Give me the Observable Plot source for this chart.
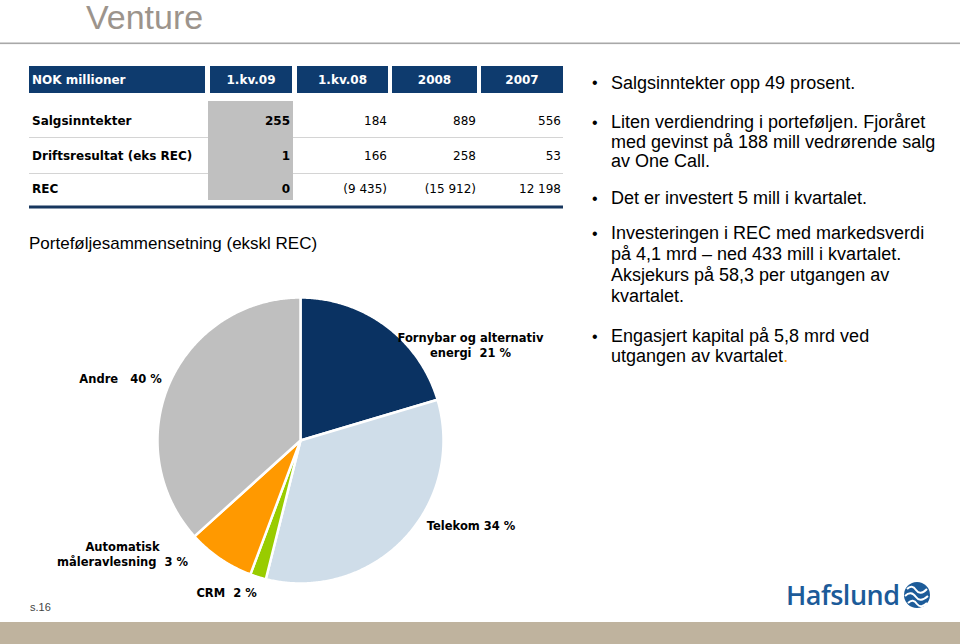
<!DOCTYPE html>
<html><head><meta charset="utf-8">
<script src="https://cdn.jsdelivr.net/npm/d3@7"></script>
<script src="https://cdn.jsdelivr.net/npm/@observablehq/plot@0.6"></script>
<style>
html,body{margin:0;padding:0;background:#fff;}
#page{position:relative;width:960px;height:644px;overflow:hidden;background:#fff;}
#page svg{position:absolute;}
</style></head><body><div id="page"></div>
<script>
// ---------- data ----------
const pageTitle = "Venture";
const headerLabels = ["NOK millioner", "1.kv.09", "1.kv.08", "2008", "2007"];
const rowLabels = ["Salgsinntekter", "Driftsresultat (eks REC)", "REC"];
const q1_2009 = [255, 1, 0];
const q1_2008 = [184, 166, -9435];
const fy2008 = [889, 258, -15912];
const fy2007 = [556, 53, 12198];

const pieTitle = "Porteføljesammensetning (ekskl REC)";
const sliceNames = ["Fornybar og alternativ energi", "Telekom", "CRM", "Automatisk måleravlesning", "Andre"];
const sliceShares = [20.4, 33.5, 1.8, 7.6, 36.7];
const sliceLabels = ["Fornybar og alternativ\nenergi  21 %", "Telekom 34 %", "CRM  2 %", "Automatisk\nmåleravlesning  3 %", "Andre   40 %"];
const sliceColors = ["#0a3262", "#cfdde9", "#99cc00", "#ff9900", "#bfbfbf"];

const bullets = [
  ["Salgsinntekter opp 49 prosent."],
  ["Liten verdiendring i porteføljen. Fjoråret", "med gevinst på 188 mill vedrørende salg", "av One Call."],
  ["Det er investert 5 mill i kvartalet."],
  ["Investeringen i REC med markedsverdi", "på 4,1 mrd – ned 433 mill i kvartalet.", "Aksjekurs på 58,3 per utgangen av", "kvartalet."],
  ["Engasjert kapital på 5,8 mrd ved", "utgangen av kvartalet"]
];
const pageNumber = "s.16";
const logoText = "Hafslund";

// ---------- layout ----------
const navy = "#0e3b6e";
const page = d3.select("#page");
const ov = page.append("svg").attr("width", 960).attr("height", 644).style("left", "0px").style("top", "0px");

function txt(x, yc, s, o = {}) {
  const fs = o.size || 12;
  return ov.append("text").attr("x", x).attr("y", yc + 0.36 * fs)
    .attr("font-family", o.family || "DejaVu Sans")
    .attr("font-size", fs).attr("font-weight", o.weight || "normal")
    .attr("fill", o.fill || "#000").attr("text-anchor", o.anchor || "start").text(s);
}

// title + rule
txt(86, 16.5, pageTitle, {family: "Liberation Sans", size: 34, fill: "#9c948c"});
ov.append("rect").attr("x", 0).attr("y", 42.5).attr("width", 960).attr("height", 1.6).attr("fill", "#a8a8a8");

// table
const colX = [[29, 205], [210, 292], [297, 388], [392, 477], [481, 563]];
headerLabels.forEach((h, i) => {
  ov.append("rect").attr("x", colX[i][0]).attr("y", 66).attr("width", colX[i][1] - colX[i][0]).attr("height", 27).attr("fill", navy);
  if (i === 0) txt(32, 80, h, {weight: "bold", fill: "#fff"});
  else txt((colX[i][0] + colX[i][1]) / 2, 80, h, {weight: "bold", fill: "#fff", anchor: "middle"});
});
[137, 173].forEach(y => ov.append("rect").attr("x", 29).attr("y", y).attr("width", 534).attr("height", 1).attr("fill", "#d4d4d4"));
ov.append("rect").attr("x", 208).attr("y", 101).attr("width", 85).attr("height", 99).attr("fill", "#c0c0c0");
ov.append("rect").attr("x", 29).attr("y", 205.5).attr("width", 534).attr("height", 3).attr("fill", "#17375e");
const fmt = n => { const s = d3.format(",")(Math.abs(n)).replace(/,/g, " "); return n < 0 ? "(" + s + ")" : s; };
const rowY = [121, 156, 188.5];
const valueCols = [q1_2009, q1_2008, fy2008, fy2007];
const rightEdge = [290, 387, 476, 561];
rowLabels.forEach((r, j) => {
  txt(32, rowY[j], r, {weight: "bold"});
  valueCols.forEach((col, i) => txt(rightEdge[i], rowY[j], fmt(col[j]), {anchor: "end", weight: i === 0 ? "bold" : "normal"}));
});

// pie title
txt(29, 243, pieTitle, {family: "Liberation Sans", size: 17});

// bullets
const bulletY = [[82.7], [122, 141.5, 161], [198], [233, 254, 275, 295.5], [336, 356]];
bullets.forEach((lines, b) => {
  txt(592, bulletY[b][0], "•", {family: "Liberation Sans", size: 16});
  lines.forEach((l, k) => {
    const t = txt(611, bulletY[b][k], l, {family: "Liberation Sans", size: 18});
    if (b === bullets.length - 1 && k === lines.length - 1) t.append("tspan").attr("fill", "#ff9900").text(".");
  });
});

// footer
ov.append("rect").attr("x", 0).attr("y", 622).attr("width", 960).attr("height", 22).attr("fill", "#bfb39e");
txt(30, 607, pageNumber, {family: "Liberation Sans", size: 11, fill: "#444"});
ov.append("text").attr("x", 786).attr("y", 605).attr("font-family", "Open Sans").attr("font-weight", 600)
  .attr("font-size", 27).attr("letter-spacing", -0.5).attr("fill", "#1c5b99").text(logoText);
ov.append("circle").attr("cx", 917).attr("cy", 595).attr("r", 13).attr("fill", "#1c5b99");
["M907,589 q5,-5 9,1 q4,6 11,-1", "M905,596 q6,-6 11,1 q4,6 12,-1", "M908,603 q5,-5 9,1 q4,5 10,-1"].forEach(d =>
  ov.append("path").attr("d", d).attr("fill", "none").attr("stroke", "#fff").attr("stroke-width", 2));

// ---------- pie via Plot ----------
const arcs = d3.pie().sort(null).value(d => d)(sliceShares);
const pts = [];
arcs.forEach((p, i) => {
  const name = sliceNames[i];
  pts.push({name, x: 0, y: 0});
  const n = Math.max(2, Math.ceil((p.endAngle - p.startAngle) / (Math.PI / 360)));
  for (let k = 0; k <= n; k++) {
    const a = p.startAngle + (p.endAngle - p.startAngle) * k / n;
    pts.push({name, x: Math.sin(a), y: Math.cos(a)});
  }
});
const labelShift = [[84.5, 18.6], [67.2, -13.9], [-31.5, 15.5], [-97.6, -5.2], [-49.3, -4]];
const labelMarks = arcs.map((p, i) => {
  const a = (p.startAngle + p.endAngle) / 2;
  return Plot.text([{x: Math.sin(a), y: Math.cos(a), t: sliceLabels[i]}], {
    x: "x", y: "y", text: "t", dx: labelShift[i][0], dy: labelShift[i][1],
    fontWeight: "bold", fontSize: 11.5, fontFamily: "DejaVu Sans", fill: "#000", lineHeight: 1.3, textAnchor: "middle"
  });
});
const chart = Plot.plot({
  width: 560, height: 330,
  marginLeft: 157, marginRight: 117, marginTop: 17, marginBottom: 27,
  x: {domain: [-1, 1], axis: null},
  y: {domain: [-1, 1], axis: null},
  color: {domain: sliceNames, range: sliceColors},
  style: {background: "transparent", overflow: "visible"},
  marks: [
    Plot.line(pts, {x: "x", y: "y", z: "name", fill: "name", stroke: "white", strokeWidth: 2.5, strokeLinejoin: "round", curve: "linear-closed"}),
    ...labelMarks
  ]
});
chart.style.left = "0px";
chart.style.top = "280px";
page.node().appendChild(chart);
</script>
</body></html>
